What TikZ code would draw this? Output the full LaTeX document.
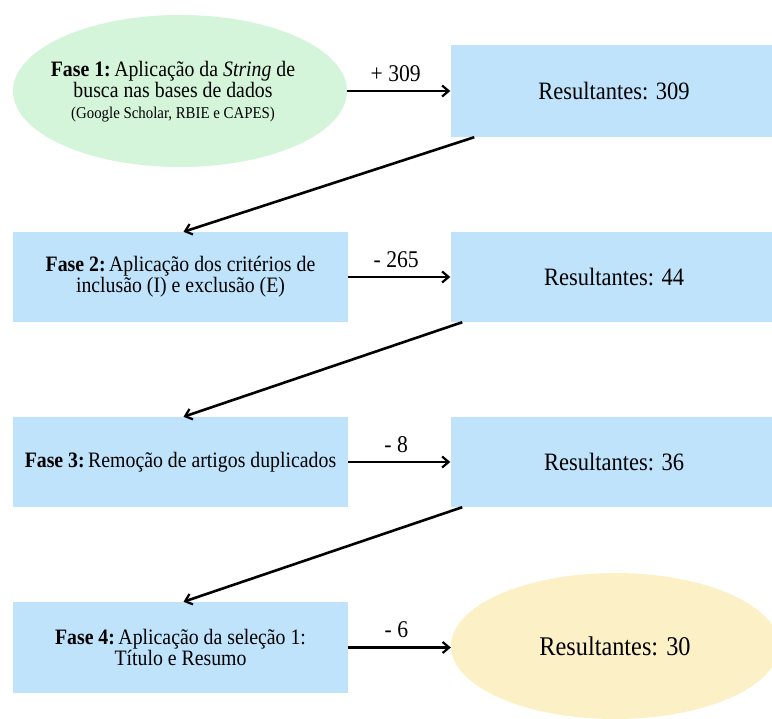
\documentclass[tikz,border=0pt]{standalone}
\usepackage{fontspec}
\setmainfont{Liberation Serif}[FakeStretch=0.9]
\usetikzlibrary{arrows.meta,calc,shapes.geometric}
\definecolor{boxblue}{HTML}{BEE3FB}
\definecolor{ellgreen}{HTML}{D4F5DA}
\definecolor{ellyellow}{HTML}{FCF1C6}
\newcommand{\fasehd}[1]{\textbf{Fase #1:}\kern3.5pt}
\begin{document}
\begin{tikzpicture}[x=1pt,y=-1pt,
  phasebox/.style={rectangle, fill=boxblue, minimum width=335pt, minimum height=90pt, inner sep=0pt, align=center, font=\fontsize{22}{21}\selectfont},
  resbox/.style={rectangle, fill=boxblue, minimum width=327pt, minimum height=90pt, inner sep=0pt, font=\fontsize{25}{28}\selectfont},
  flow/.style={line width=2.6pt, -{Straight Barb[length=6.5pt,width=11pt,line width=2.2pt]}},
  cnt/.style={font=\fontsize{24}{26}\selectfont, inner sep=0pt}
]
\useasboundingbox (0,0) rectangle (772,719);
% left column
\node[ellipse, fill=ellgreen, minimum width=334pt, minimum height=152pt, inner sep=0pt] (f1) at (180,91) {};
\node[align=center, inner sep=0pt, font=\fontsize{22}{21}\selectfont] (f1t) at (173,92)
  {\fasehd{1}Aplicação da \textit{String} de\\busca nas bases de dados\\{\fontsize{16.5}{19}\selectfont (Google Scholar, RBIE e CAPES)}};
\node[phasebox] (f2) at (180.5,277) {\fasehd{2}Aplicação dos critérios de\\inclusão (I) e exclusão (E)};
\node[phasebox] (f3) at (180.5,462) {\fasehd{3}Remoção de artigos duplicados};
\node[phasebox, minimum height=91pt] (f4) at (180.5,647.5) {\fasehd{4}Aplicação da seleção 1:\\Título e Resumo};
% right column
\node[resbox, minimum height=92pt] (r1) at (614,91) {Resultantes: 309};
\node[resbox] (r2) at (614,277) {Resultantes: 44};
\node[resbox] (r3) at (614,462) {Resultantes: 36};
\node[ellipse, fill=ellyellow, minimum width=328pt, minimum height=146pt, inner sep=0pt, font=\fontsize{27}{30}\selectfont] (r4) at (615,646) {Resultantes: 30};
% horizontal arrows
\draw[flow] (f1) -- (r1) node[cnt, pos=0.47, above=8pt] (l1) {+ 309};
\draw[flow] (f2) -- (r2) node[cnt, pos=0.47, above=8pt] (l2) {- 265};
\draw[flow] (f3) -- (r3) node[cnt, pos=0.47, above=8pt] (l3) {- 8};
\draw[flow] (f4.east) -- (f4.east -| r4.west) node[cnt, pos=0.47, above=8pt] (l4) {- 6};
% diagonal arrows
\draw[flow] ($(r1.south west)+(24,0)$) -- ($(f2.north)+(3,0)$);
\draw[flow] ($(r2.south west)+(12,0)$) -- ($(f3.north)+(3,0)$);
\draw[flow] ($(r3.south west)+(12,0)$) -- ($(f4.north)+(3,0)$);
\end{tikzpicture}
\end{document}
